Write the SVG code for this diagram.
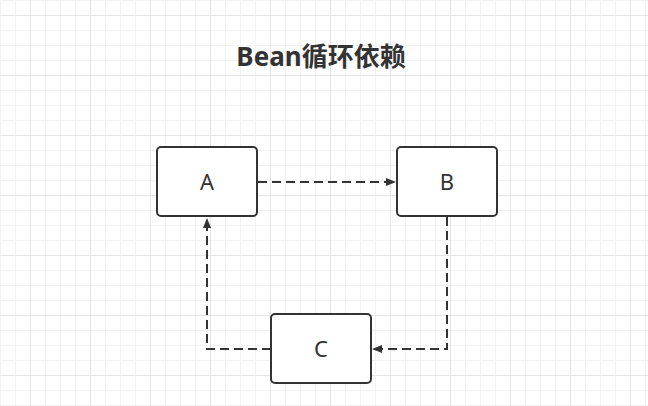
<svg xmlns="http://www.w3.org/2000/svg" width="648" height="406" viewBox="0 0 648 406">
  <defs>
    <pattern id="minor" width="15" height="15" patternUnits="userSpaceOnUse">
      <path d="M0.5 0V15M0 0.5H15" stroke="#f2f2f2" stroke-width="1" fill="none"/>
    </pattern>
    <pattern id="major" x="30" y="15" width="60" height="60" patternUnits="userSpaceOnUse">
      <path d="M0.5 0V60M0 0.5H60" stroke="#e4e4e4" stroke-width="1" fill="none"/>
    </pattern>
    <marker id="arrow" viewBox="0 0 10 8" refX="10" refY="4" markerWidth="10" markerHeight="8" markerUnits="userSpaceOnUse" orient="auto">
      <path d="M0 0L10 4L0 8Z" fill="#333333"/>
    </marker>
    <style>
      .node rect { fill: #ffffff; stroke: #333333; stroke-width: 2; }
      .node text { font-family: "Noto Sans", "Open Sans", sans-serif; font-size: 22px; fill: #333333; text-anchor: middle; }
      .edge { fill: none; stroke: #333333; stroke-width: 2; stroke-dasharray: 9 5; marker-end: url(#arrow); }
      .title { font-family: "Noto Sans", "Noto Sans CJK SC", sans-serif; font-size: 26px; font-weight: bold; fill: #333333; text-anchor: middle; }
    </style>
  </defs>
  <rect width="648" height="406" fill="#ffffff"/>
  <rect width="648" height="406" fill="url(#minor)"/>
  <rect width="648" height="406" fill="url(#major)"/>

  <text class="title" x="321" y="66">Bean循环依赖</text>

  <g id="connectors">
    <path class="edge" d="M258 182H396"/>
    <path class="edge" d="M271 349H207V218"/>
    <path class="edge" d="M447 217V349H372"/>
  </g>

  <g id="node-A" class="node">
    <rect x="157" y="147" width="100" height="69" rx="4"/>
    <text x="207" y="190">A</text>
  </g>
  <g id="node-B" class="node">
    <rect x="397" y="147" width="100" height="69" rx="4"/>
    <text x="447" y="190">B</text>
  </g>
  <g id="node-C" class="node">
    <rect x="271" y="314" width="100" height="69" rx="4"/>
    <text x="321" y="357">C</text>
  </g>
</svg>
